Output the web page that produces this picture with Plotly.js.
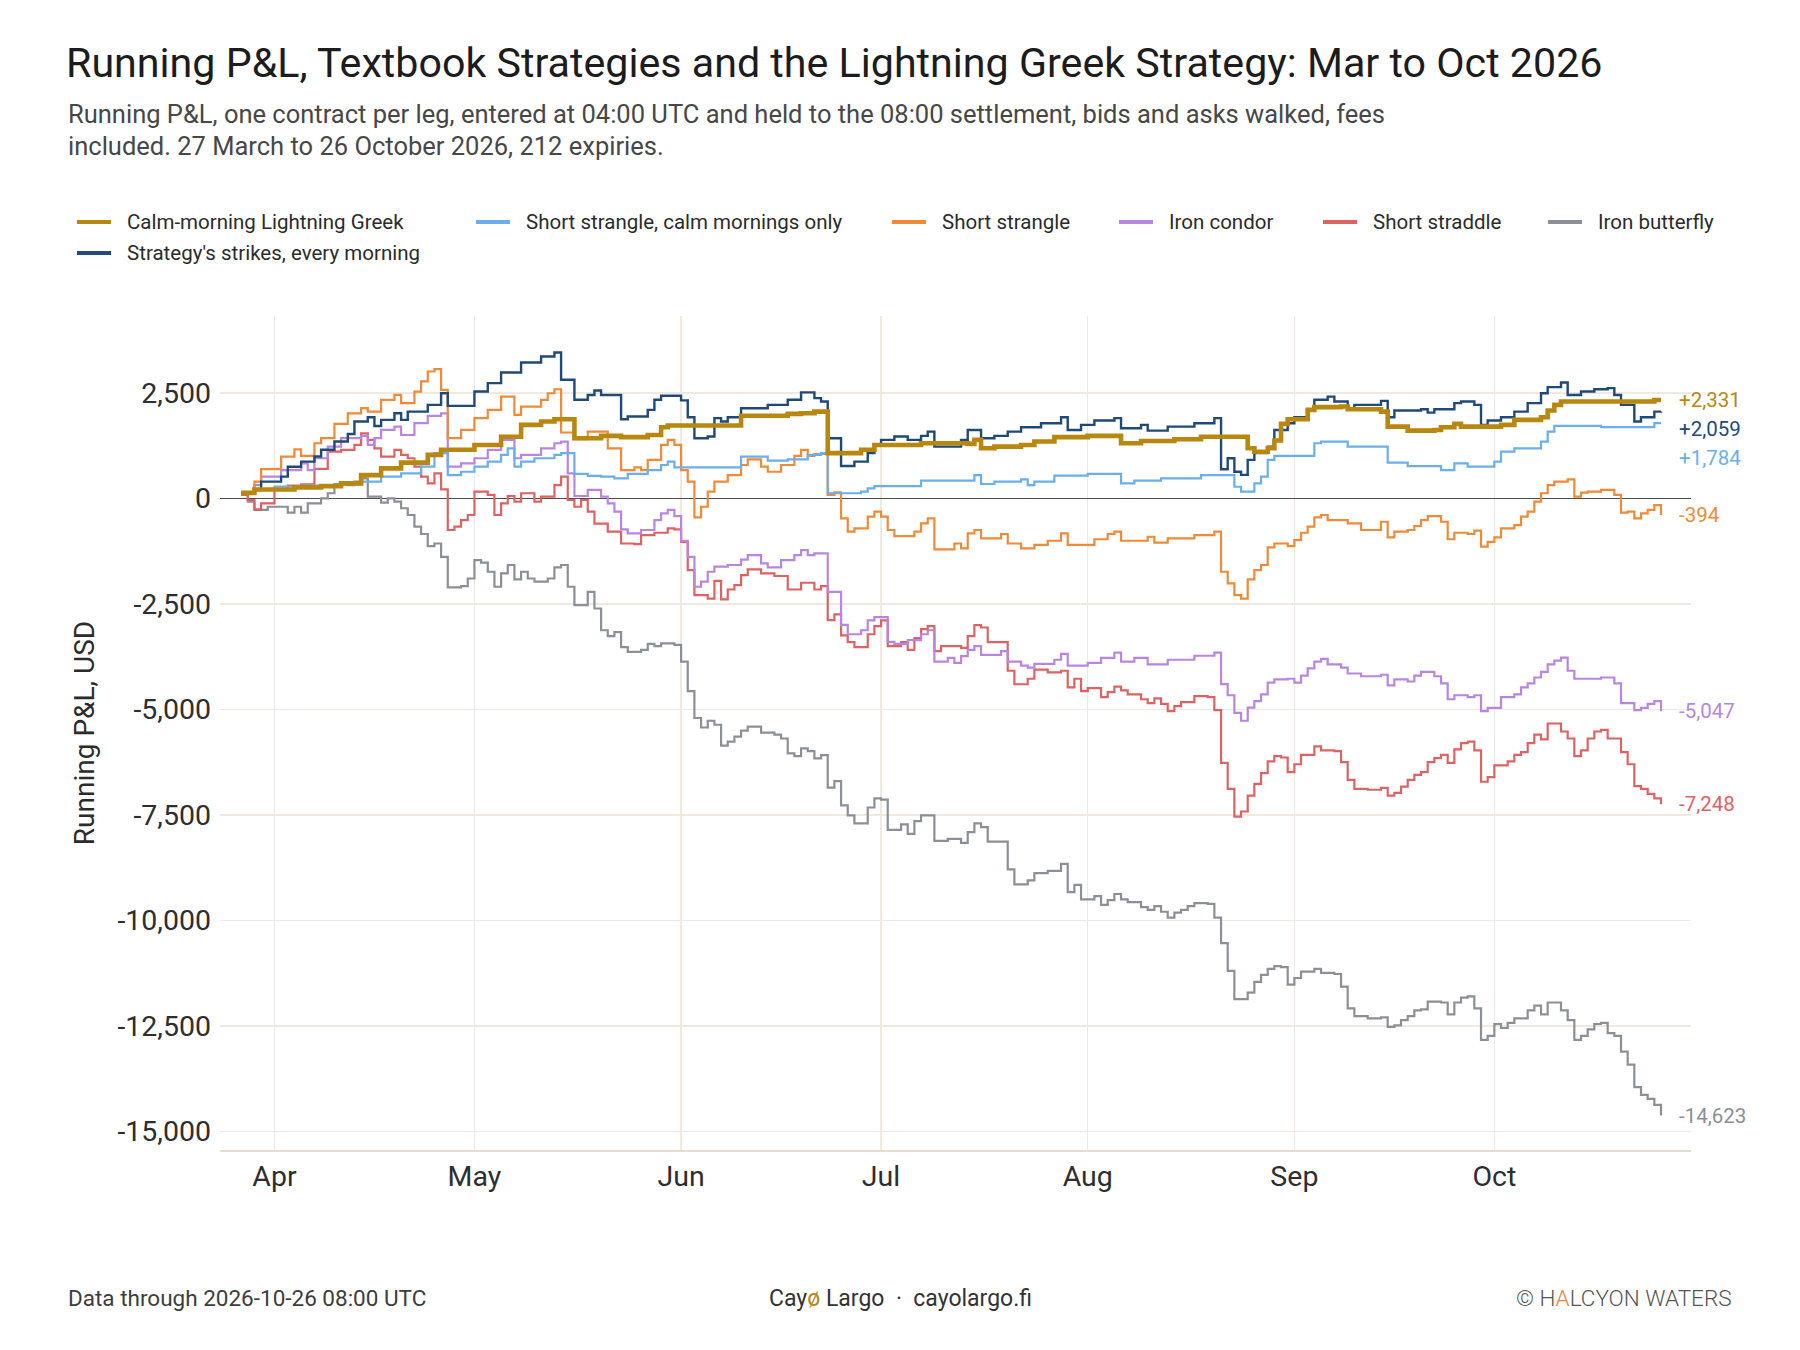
<!DOCTYPE html>
<html>
<head>
<meta charset="utf-8">
<script src="https://cdn.plot.ly/plotly-3.0.1.min.js"></script>
<style>
  html, body { margin: 0; padding: 0; background: #ffffff; }
  #chart { width: 1800px; height: 1350px; }
</style>
</head>
<body>
<div id="chart"></div>
<script>
// Running P&L per strategy. Day numbers count calendar days after the first expiry (27 March 2026).
const FIRST_EXPIRY = '2026-03-27';

// Calm-morning Lightning Greek
const lgDay = [0,2,8,12,15,18,21,24,28,30,35,39,42,45,47,50,54,57,61,63,64,75,82,84,86,88,93,95,102,109,110,111,113,117,119,122,127,132,135,140,144,151,152,154,155,156,157,160,161,165,166,171,172,175,179,180,182,183,188,189,191,195,196,197,198,212,213];
const lgPnl = [130,210,260,290,355,550,710,845,1030,1150,1265,1460,1740,1820,1875,1425,1480,1450,1500,1685,1725,1955,2000,2015,2055,1070,1150,1265,1305,1290,1385,1185,1225,1265,1345,1450,1480,1305,1360,1400,1460,1185,1105,1185,1370,1765,1875,2095,2160,2175,2110,2055,1700,1605,1620,1685,1765,1700,1700,1740,1860,1920,2080,2215,2295,2331,2331];

// Strategy's strikes, every morning
const skDay = [0,2,3,6,7,9,11,12,14,16,17,19,20,21,23,24,25,28,30,31,35,37,39,42,45,47,48,50,52,53,54,57,58,61,62,63,66,67,68,70,71,72,73,75,79,82,84,86,87,88,90,92,94,95,96,98,100,102,103,104,108,109,111,113,115,117,120,123,124,126,128,131,132,135,136,139,143,146,147,148,149,150,151,152,154,155,157,158,160,161,163,164,166,167,171,172,173,177,178,179,182,183,185,186,187,189,191,193,195,196,198,199,201,203,205,206,207,209,210,212,213];
const skPnl = [134,198,395,514,750,870,990,1150,1345,1525,1820,1920,1715,1860,2015,1860,2055,2215,2490,2190,2530,2730,2980,3220,3360,3455,2810,2335,2450,2555,2450,1875,1940,2095,2335,2430,2320,1920,1425,1465,1900,1820,1920,2135,2215,2335,2510,2375,2295,1425,765,870,1070,1265,1385,1465,1385,1480,1580,1225,1385,1620,1425,1480,1580,1685,1780,1920,1620,1740,1845,1900,1660,1740,1605,1700,1780,1900,690,950,630,555,910,1070,1225,1620,1780,1920,2080,2335,2410,2295,2095,2215,2310,1920,2080,2110,2030,2110,2255,2295,2215,1740,1845,1920,2055,2255,2490,2635,2745,2450,2530,2585,2610,2450,2215,1820,1920,2055,2059];

// Short strangle, calm mornings only
const csDay = [0,2,5,9,14,18,21,24,27,29,31,33,35,37,39,40,41,42,44,47,48,50,52,54,56,58,61,63,64,65,75,79,82,85,87,88,93,94,95,102,110,111,113,117,118,119,122,127,132,134,138,144,149,150,152,153,154,155,161,162,166,172,175,180,182,184,188,189,191,195,196,197,204,212,213];
const csPnl = [130,210,280,300,330,395,514,590,750,1070,550,630,750,870,1030,1185,750,870,950,1030,1070,580,530,515,475,580,670,790,870,735,990,895,925,1030,1070,120,160,235,290,420,550,340,395,450,315,395,540,580,355,420,475,550,275,160,355,515,910,1005,1305,1345,1225,845,765,670,830,750,870,1105,1185,1345,1580,1715,1685,1784,1784];

// Short strangle
const ssDay = [0,2,3,6,8,9,11,12,14,16,18,19,21,23,24,26,27,28,29,30,31,33,35,37,39,41,42,45,46,47,48,50,52,55,57,59,60,61,63,64,65,66,67,68,69,70,71,73,75,76,78,79,81,83,84,85,86,88,89,90,91,92,94,95,96,97,98,101,102,103,104,107,108,109,110,111,114,115,117,119,121,123,124,128,130,131,132,136,137,139,143,146,147,148,149,150,151,152,153,154,155,157,158,159,160,161,162,163,166,168,171,172,173,175,176,177,178,180,181,182,184,185,186,187,188,189,191,192,193,194,195,196,197,199,200,201,202,204,206,207,208,209,210,211,212,213];
const ssPnl = [120,395,690,990,1160,1005,1305,1425,1765,2015,2135,2055,2335,2450,2255,2530,2770,3005,3060,2570,1425,1620,1900,2095,2410,1975,2175,2335,2490,2585,1560,1400,1580,1185,670,735,670,910,1265,1385,1265,670,395,-450,-200,160,395,550,790,925,750,630,790,1005,1150,1005,1050,80,140,-475,-790,-710,-435,-315,-435,-750,-895,-790,-595,-475,-1210,-1070,-1185,-830,-750,-950,-845,-1070,-1185,-1105,-1005,-830,-1105,-970,-845,-790,-1005,-910,-1050,-950,-870,-790,-1740,-2015,-2295,-2375,-1920,-1700,-1580,-1160,-1070,-1130,-990,-815,-670,-450,-395,-515,-595,-750,-555,-925,-790,-750,-655,-515,-420,-555,-970,-815,-845,-765,-1145,-1030,-925,-710,-635,-435,-315,-80,120,315,395,450,40,135,160,200,80,-340,-315,-475,-355,-275,-160,-394];

// Iron condor
const icDay = [0,2,3,6,9,10,11,13,15,18,19,20,21,23,24,26,28,30,31,33,35,37,39,41,42,45,47,48,49,50,52,54,55,56,57,58,60,62,63,64,65,66,67,68,69,70,71,73,75,76,78,79,81,83,84,85,86,88,90,91,93,94,95,97,98,100,102,103,104,106,107,108,109,110,111,114,115,117,118,119,122,123,124,127,129,131,132,134,136,139,143,146,147,148,149,150,151,152,153,154,155,157,158,159,160,161,162,163,165,166,168,171,172,173,175,176,177,179,180,181,182,184,185,186,187,189,191,192,193,194,195,196,197,198,199,200,204,206,207,209,210,211,212,213];
const icPnl = [120,315,515,670,830,670,950,1225,1425,1480,1265,1425,1620,1700,1500,1780,1955,2015,750,830,950,1150,1385,950,1030,1185,1305,1345,590,55,200,40,-120,-315,-735,-830,-750,-515,-355,-275,-420,-1005,-1385,-2095,-1975,-1740,-1620,-1580,-1450,-1345,-1540,-1635,-1465,-1345,-1225,-1345,-1305,-2215,-3000,-3220,-3125,-2890,-2815,-3400,-3450,-3360,-3220,-3125,-3870,-3780,-3900,-3740,-3590,-3500,-3710,-3620,-3870,-3965,-4010,-3920,-3825,-3685,-3965,-3900,-3780,-3655,-3870,-3780,-3935,-3825,-3730,-3655,-4400,-4665,-5085,-5270,-4960,-4805,-4645,-4365,-4290,-4275,-4365,-4200,-4030,-3870,-3805,-3935,-4010,-4150,-4215,-4180,-4430,-4290,-4340,-4200,-4110,-4215,-4385,-4760,-4665,-4710,-4665,-5040,-4965,-4710,-4645,-4480,-4385,-4245,-4110,-3935,-3845,-3775,-4085,-4275,-4245,-4385,-4850,-5020,-4965,-4870,-4805,-5047];

// Short straddle
const sdDay = [0,1,2,3,5,7,9,11,13,15,17,18,19,20,21,23,24,25,26,27,28,29,30,31,32,33,34,35,37,38,39,40,41,42,44,45,47,48,49,50,51,52,53,55,57,59,60,62,64,65,66,67,68,70,71,72,73,74,75,76,78,80,82,84,86,87,88,89,90,91,92,94,95,96,97,99,100,101,102,103,104,105,108,109,110,111,112,115,116,118,119,121,123,124,125,126,127,129,130,131,132,133,135,136,137,138,139,140,141,143,145,146,147,148,149,150,151,152,153,154,155,156,157,158,159,161,162,164,165,166,167,169,171,172,173,174,175,176,177,178,179,180,181,182,183,184,185,186,187,188,190,191,192,193,194,195,196,198,199,200,201,202,203,204,205,207,208,209,210,211,212,213];
const sdPnl = [80,-40,-260,-120,215,300,330,700,1105,1150,1265,1540,1385,1185,990,1150,1030,950,750,515,355,590,213,-750,-670,-515,-395,160,80,-395,-120,55,-80,120,-80,40,315,515,-40,-200,-40,-315,-600,-790,-1070,-1085,-870,-815,-710,-735,-1030,-1700,-2295,-2375,-1955,-2395,-2160,-2055,-1820,-1685,-1780,-1840,-2160,-2000,-2160,-2080,-2885,-2750,-3245,-3405,-3525,-3220,-3030,-2890,-3500,-3405,-3590,-3310,-3100,-3030,-3620,-3500,-3545,-3265,-3005,-3060,-3405,-4085,-4405,-4275,-4060,-4125,-4085,-4480,-4275,-4570,-4495,-4710,-4590,-4460,-4550,-4645,-4760,-4850,-4740,-4870,-5040,-4925,-4830,-4685,-4710,-5020,-6270,-6885,-7540,-7420,-7045,-6765,-6510,-6230,-6110,-6140,-6485,-6300,-6080,-5875,-5970,-5990,-6250,-6670,-6885,-6905,-6860,-7045,-6980,-6830,-6670,-6550,-6485,-6250,-6155,-6080,-6270,-5950,-5800,-5765,-5970,-6715,-6605,-6325,-6230,-6080,-6015,-5800,-5600,-5710,-5335,-5525,-5690,-6110,-5970,-5690,-5525,-5485,-5690,-6015,-6300,-6820,-6885,-7000,-7110,-7248];

// Iron butterfly
const ibDay = [0,1,2,4,7,8,9,10,12,13,14,16,17,18,19,21,22,23,24,25,26,27,28,29,30,31,33,34,35,36,37,38,39,40,41,42,43,44,46,47,48,49,50,52,53,54,55,56,57,58,60,61,62,63,65,66,67,68,69,70,71,72,73,74,75,76,78,80,81,82,83,84,85,86,87,88,89,90,91,92,94,95,96,97,99,100,101,102,104,106,108,109,110,111,112,115,116,118,119,121,123,124,125,126,128,129,130,131,132,133,135,136,137,138,139,140,141,142,143,145,146,147,148,149,151,152,153,154,155,156,157,158,159,161,162,164,165,166,167,169,171,172,173,174,175,176,177,178,180,181,182,183,184,185,186,187,188,189,190,191,193,194,195,196,198,199,200,201,202,203,204,205,206,207,208,209,210,211,212,213];
const ibPnl = [120,-80,-275,-200,-340,-200,-340,-120,0,120,340,315,395,475,40,-100,0,-80,-235,-395,-670,-845,-1130,-1070,-1385,-2110,-2080,-1900,-1465,-1525,-1740,-2095,-1780,-1580,-1920,-1740,-1900,-1975,-1900,-1635,-1580,-2095,-2530,-2215,-2610,-3125,-3265,-3170,-3525,-3640,-3590,-3450,-3500,-3435,-3470,-3870,-4570,-5205,-5430,-5270,-5365,-5860,-5765,-5645,-5505,-5410,-5550,-5600,-5690,-6045,-6110,-5925,-5990,-6160,-6085,-6855,-6700,-7275,-7510,-7700,-7325,-7110,-7140,-7855,-7725,-7950,-7650,-7510,-8115,-8070,-8165,-7910,-7700,-7790,-8135,-8790,-9145,-9050,-8880,-8825,-8660,-9330,-9160,-9500,-9425,-9630,-9520,-9375,-9500,-9565,-9685,-9750,-9660,-9795,-9935,-9815,-9750,-9660,-9590,-9610,-9935,-10540,-11195,-11865,-11710,-11455,-11290,-11150,-11085,-11105,-11520,-11365,-11215,-11150,-11245,-11270,-11570,-12085,-12270,-12320,-12300,-12525,-12485,-12365,-12270,-12130,-12110,-11925,-11945,-12225,-11945,-11830,-11800,-12085,-12830,-12735,-12455,-12550,-12430,-12320,-12130,-12020,-12225,-11945,-12130,-12365,-12830,-12735,-12580,-12455,-12430,-12670,-12735,-13110,-13415,-13950,-14135,-14230,-14370,-14623];

// Y-axis ticks
const yTicks = [2500, 0, -2500, -5000, -7500, -10000, -12500, -15000];

// ---------------------------------------------------------------------------
const FONT = 'Roboto, "Noto Sans", "DejaVu Sans", sans-serif';
const W = 1800, H = 1350;
const PLOT = { l: 220, r: 1691, t: 316, b: 1150 };
const Y_RANGE = [-15440, 4320];
const X_RANGE = ['2026-03-23 20:00', '2026-10-30 12:00'];

const px = x => (x - PLOT.l) / (PLOT.r - PLOT.l);   // page px -> paper x
const py = y => (PLOT.b - y) / (PLOT.b - PLOT.t);   // page px -> paper y

const base = Date.parse(FIRST_EXPIRY + 'T00:00:00Z');
const toDate = d => new Date(base + d * 86400000).toISOString().slice(0, 10);

const fmt = v => (v < 0 ? '-' : '') + Math.abs(v).toLocaleString('en-US');
const fmtSigned = v => (v > 0 ? '+' : v < 0 ? '-' : '') + Math.abs(v).toLocaleString('en-US');

// Drawn bottom to top; the strategy line goes last so it sits above the rest.
const series = [
  { name: 'Iron butterfly', day: ibDay, pnl: ibPnl, color: '#8b8f96', width: 2.2 },
  { name: 'Short straddle', day: sdDay, pnl: sdPnl, color: '#dc6363', width: 2.2 },
  { name: 'Iron condor', day: icDay, pnl: icPnl, color: '#b886e0', width: 2.2 },
  { name: 'Short strangle', day: ssDay, pnl: ssPnl, color: '#ee8a38', width: 2.2 },
  { name: 'Short strangle, calm mornings only', day: csDay, pnl: csPnl, color: '#6aafec', width: 2.2 },
  { name: "Strategy's strikes, every morning", day: skDay, pnl: skPnl, color: '#1f4a78', width: 2.4 },
  { name: 'Calm-morning Lightning Greek', day: lgDay, pnl: lgPnl, color: '#b8870f', width: 4.6 }
];

const traces = series.map(s => ({
  type: 'scatter',
  mode: 'lines',
  name: s.name,
  x: s.day.map(toDate),
  y: s.pnl,
  line: { color: s.color, width: s.width, shape: 'hv' },
  hoverinfo: 'skip',
  showlegend: false
}));

const byName = Object.fromEntries(series.map(s => [s.name, s]));

// Legend built from short line samples and labels
const legendRows = [
  { y: 222, items: [
    ['Calm-morning Lightning Greek', 77],
    ['Short strangle, calm mornings only', 476],
    ['Short strangle', 892],
    ['Iron condor', 1119],
    ['Short straddle', 1323],
    ['Iron butterfly', 1548]
  ]},
  { y: 253, items: [["Strategy's strikes, every morning", 77]] }
];

const shapes = [];
const annotations = [];

legendRows.forEach(row => {
  row.items.forEach(([name, x0]) => {
    const s = byName[name];
    shapes.push({
      type: 'line', xref: 'paper', yref: 'paper',
      x0: px(x0), x1: px(x0 + 34), y0: py(row.y), y1: py(row.y),
      line: { color: s.color, width: 4 }
    });
    annotations.push({
      xref: 'paper', yref: 'paper', x: px(x0 + 48), y: py(row.y),
      xanchor: 'left', yanchor: 'middle', showarrow: false,
      text: name, font: { family: FONT, size: 20.5, color: '#2b2b2b' }
    });
  });
});

// End-of-series value labels, nudged apart where they would collide
const pxPerUnit = (PLOT.b - PLOT.t) / (Y_RANGE[1] - Y_RANGE[0]);
const ends = series.map(s => ({
  s, value: s.pnl[s.pnl.length - 1], day: s.day[s.day.length - 1]
})).sort((a, b) => b.value - a.value);
let prevPos = -Infinity;
const MIN_GAP = 29;
ends.forEach(e => {
  const natural = PLOT.t + (Y_RANGE[1] - e.value) * pxPerUnit;
  const pos = Math.max(natural, prevPos + MIN_GAP);
  prevPos = pos;
  annotations.push({
    xref: 'x', yref: 'y', x: toDate(e.day), y: e.value,
    xanchor: 'left', yanchor: 'middle', xshift: 16, yshift: -(pos - natural),
    showarrow: false, text: fmtSigned(e.value),
    font: { family: FONT, size: 20.5, color: e.s.color }
  });
});

// Subtitle and footer
const subLines = [
  'Running P&L, one contract per leg, entered at 04:00 UTC and held to the 08:00 settlement, bids and asks walked, fees',
  'included. 27 March to 26 October 2026, 212 expiries.'
];
subLines.forEach((t, i) => {
  annotations.push({
    xref: 'paper', yref: 'paper', x: px(66), y: py(114 + i * 32),
    xanchor: 'left', yanchor: 'middle', showarrow: false, align: 'left',
    text: t, font: { family: FONT, size: 25.5, color: '#474747' }
  });
});

annotations.push(
  {
    xref: 'paper', yref: 'paper', x: px(66), y: py(1298),
    xanchor: 'left', yanchor: 'middle', showarrow: false,
    text: 'Data through 2026-10-26 08:00 UTC',
    font: { family: FONT, size: 22.5, color: '#3d3d3d' }
  },
  {
    xref: 'paper', yref: 'paper', x: px(900), y: py(1298),
    xanchor: 'center', yanchor: 'middle', showarrow: false,
    text: 'Cay<span style="color:#b8870f">ø</span> Largo  ·  cayolargo.fi',
    font: { family: FONT, size: 23, color: '#333333' }
  },
  {
    xref: 'paper', yref: 'paper', x: px(1734), y: py(1298),
    xanchor: 'right', yanchor: 'middle', showarrow: false,
    text: '© H<span style="color:#e8823a">A</span>LCYON WATERS',
    font: { family: FONT, size: 22.5, color: '#555555', weight: 300 }
  }
);

const layout = {
  width: W, height: H,
  margin: { l: PLOT.l, r: W - PLOT.r, t: PLOT.t, b: H - PLOT.b, pad: 0 },
  paper_bgcolor: '#ffffff',
  plot_bgcolor: '#ffffff',
  showlegend: false,
  title: {
    text: 'Running P&L, Textbook Strategies and the Lightning Greek Strategy: Mar to Oct 2026',
    x: 66 / W, xref: 'container', xanchor: 'left',
    y: 1 - 63 / H, yref: 'container', yanchor: 'middle',
    font: { family: FONT, size: 41.2, color: '#1c1c1c' }
  },
  xaxis: {
    type: 'date',
    range: X_RANGE,
    tick0: '2026-04-01', dtick: 'M1', tickformat: '%b',
    showgrid: true, gridcolor: '#efe9df', gridwidth: 1.4,
    showline: true, linecolor: '#e4ddd0', linewidth: 1.5,
    ticks: '', ticklabelstandoff: 0,
    tickfont: { family: FONT, size: 28.5, color: '#2e2e2e' },
    zeroline: false
  },
  yaxis: {
    range: Y_RANGE,
    tickvals: yTicks, ticktext: yTicks.map(fmt),
    showgrid: true, gridcolor: '#efe9df', gridwidth: 1.4,
    zeroline: true, zerolinecolor: '#4d4d4d', zerolinewidth: 1.5,
    showline: false, ticks: '', ticklabelstandoff: 8,
    tickfont: { family: FONT, size: 28.5, color: '#2e2e2e' },
    title: { text: 'Running P&L, USD', standoff: 14,
             font: { family: FONT, size: 28, color: '#2b2b2b' } }
  },
  shapes, annotations
};

Plotly.newPlot('chart', traces, layout, { staticPlot: true, displayModeBar: false });
</script>
</body>
</html>
